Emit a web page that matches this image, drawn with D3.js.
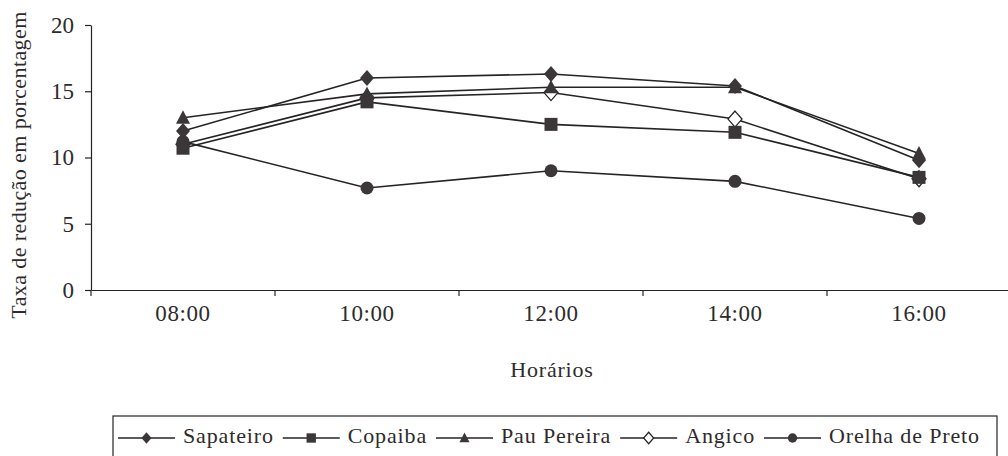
<!DOCTYPE html>
<html>
<head>
<meta charset="utf-8">
<script src="https://cdn.jsdelivr.net/npm/d3@7"></script>
<style>
    html, body { margin: 0; padding: 0; background: #fff; }
    svg text { font-family: "Liberation Serif", "Times New Roman", serif; fill: #2e2b2c; }
</style>
</head>
<body>
<div id="chart"></div>
<script>
// values
var horarios = ['08:00', '10:00', '12:00', '14:00', '16:00'];
var yTicks = [0, 5, 10, 15, 20];
var especies = ['Sapateiro', 'Copaiba', 'Pau Pereira', 'Angico', 'Orelha de Preto'];
var sapateiro = [12.0, 16.0, 16.3, 15.4, 9.8];
var copaiba = [10.7, 14.2, 12.5, 11.9, 8.5];
var pauPereira = [13.0, 14.8, 15.3, 15.3, 10.3];
var angico = [11.0, 14.5, 14.9, 12.9, 8.4];
var orelhaDePreto = [11.2, 7.7, 9.0, 8.2, 5.4];
var yTitle = 'Taxa de redução em porcentagem';
var xTitle = 'Horários';

(function(){
    'use strict';

    var W = 1008, H = 456;
    var ink = '#3b3738', lineInk = '#262324';

    var series = [
        {name: especies[0], values: sapateiro, shape: 'diamond', fill: ink, z: 2},
        {name: especies[1], values: copaiba, shape: 'square', fill: ink, z: 3},
        {name: especies[2], values: pauPereira, shape: 'triangle', fill: ink, z: 4},
        {name: especies[3], values: angico, shape: 'diamond', fill: '#fff', z: 0},
        {name: especies[4], values: orelhaDePreto, shape: 'circle', fill: ink, z: 1}
    ];

    // marker path centred on 0,0, k scales it down for the legend
    function marker(shape, k){
        k = k || 1;
        var p = d3.path();
        if(shape === 'diamond'){
            var w = 7*k, h = 8*k;
            p.moveTo(0, -h); p.lineTo(w, 0); p.lineTo(0, h); p.lineTo(-w, 0); p.closePath();
        }else if(shape === 'square'){
            var s = 6.5*k;
            p.rect(-s, -s, 2*s, 2*s);
        }else if(shape === 'triangle'){
            var tw = 7*k, th = 7.5*k;
            p.moveTo(0, -th); p.lineTo(tw, th*0.8); p.lineTo(-tw, th*0.8); p.closePath();
        }else{
            p.arc(0, 0, 6.5*k, 0, 2*Math.PI);
        }
        return p.toString();
    }

    var svg = d3.select('#chart').append('svg')
        .attr('width', W)
        .attr('height', H);

    var x = d3.scaleBand().domain(horarios).range([91, 1011]).padding(0);
    var y = d3.scaleLinear().domain([0, 20]).range([290, 25]);
    var cx = function(i){ return x(horarios[i]) + x.bandwidth()/2; };

    // y axis
    var gy = svg.append('g')
        .attr('transform', 'translate(91,0)')
        .call(d3.axisLeft(y).tickValues(yTicks).tickSize(6).tickSizeOuter(0).tickPadding(11));
    gy.selectAll('path, line').attr('stroke', lineInk).attr('stroke-width', 1.2);
    gy.selectAll('text').style('font-size', '23px').attr('fill', '#2e2b2c')
        .style('font-family', '"Liberation Serif", serif');

    // x axis: labels at the band centres, ticks at the band edges
    var gx = svg.append('g')
        .attr('transform', 'translate(0,290)')
        .call(d3.axisBottom(x).tickSize(0).tickSizeOuter(0).tickPadding(15));
    gx.select('path').attr('stroke', lineInk).attr('stroke-width', 1.2);
    gx.selectAll('text').style('font-size', '23px').style('letter-spacing', '0.6px')
        .attr('fill', '#2e2b2c').style('font-family', '"Liberation Serif", serif');
    gx.selectAll('line.edge')
        .data(horarios.slice(1).concat(['end']))
        .enter().append('line')
        .attr('class', 'edge')
        .attr('x1', function(d, i){ return x(horarios[0]) + (i+1)*x.step(); })
        .attr('x2', function(d, i){ return x(horarios[0]) + (i+1)*x.step(); })
        .attr('y1', 0).attr('y2', 6)
        .attr('stroke', lineInk).attr('stroke-width', 1.2);
    gx.append('line')
        .attr('x1', 91).attr('x2', 91).attr('y1', 0).attr('y2', 6)
        .attr('stroke', lineInk).attr('stroke-width', 1.2);

    // axis titles
    svg.append('text')
        .attr('transform', 'translate(26,165) rotate(-90)')
        .attr('text-anchor', 'middle')
        .style('font-size', '22px')
        .style('letter-spacing', '0.4px')
        .text(yTitle);
    svg.append('text')
        .attr('x', 552).attr('y', 377)
        .attr('text-anchor', 'middle')
        .style('font-size', '22px')
        .style('letter-spacing', '0.8px')
        .text(xTitle);

    // lines first, then markers on top
    var line = d3.line()
        .x(function(d, i){ return cx(i); })
        .y(function(d){ return y(d); });

    var drawOrder = series.slice().sort(function(a, b){ return a.z - b.z; });

    svg.selectAll('path.serie')
        .data(drawOrder).enter()
        .append('path')
        .attr('class', 'serie')
        .attr('d', function(d){ return line(d.values); })
        .attr('fill', 'none')
        .attr('stroke', lineInk)
        .attr('stroke-width', 1.6);

    drawOrder.forEach(function(s){
        svg.selectAll(null)
            .data(s.values).enter()
            .append('path')
            .attr('d', marker(s.shape))
            .attr('transform', function(d, i){ return 'translate(' + cx(i) + ',' + y(d) + ')'; })
            .attr('fill', s.fill)
            .attr('stroke', s.fill === '#fff' ? lineInk : 'none')
            .attr('stroke-width', 1.3);
    });

    // legend
    var legend = svg.append('g');
    var ly = 438, lx = 118;
    var items = legend.selectAll('g.item')
        .data(series).enter()
        .append('g').attr('class', 'item');

    items.each(function(s){
        var g = d3.select(this);
        g.append('line')
            .attr('x1', lx).attr('x2', lx + 57)
            .attr('y1', ly).attr('y2', ly)
            .attr('stroke', lineInk).attr('stroke-width', 1.6);
        g.append('path')
            .attr('d', marker(s.shape, 0.72))
            .attr('transform', 'translate(' + (lx + 28.5) + ',' + ly + ')')
            .attr('fill', s.fill)
            .attr('stroke', s.fill === '#fff' ? lineInk : 'none')
            .attr('stroke-width', 1.2);
        var t = g.append('text')
            .attr('x', lx + 65).attr('y', ly + 5)
            .style('font-size', '22px')
            .style('letter-spacing', '0.85px')
            .text(s.name);
        lx = lx + 65 + t.node().getComputedTextLength() + 9;
    });

    legend.insert('rect', ':first-child')
        .attr('x', 113).attr('y', 416)
        .attr('width', 997 - 113).attr('height', 60)
        .attr('fill', '#fff')
        .attr('stroke', lineInk)
        .attr('stroke-width', 1.2);
}());
</script>
</body>
</html>
